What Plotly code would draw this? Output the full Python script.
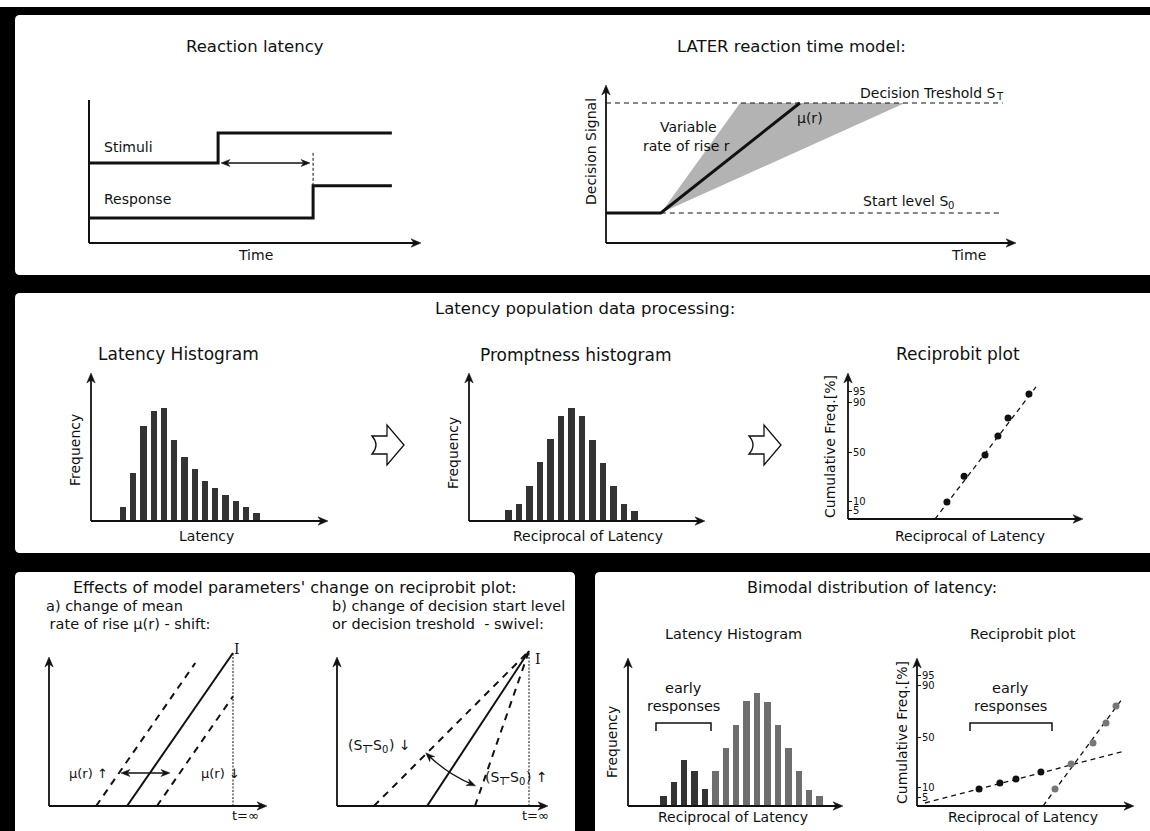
import math
import plotly.graph_objects as go

W, H = 1150, 831
FONT = "DejaVu Sans"
INK = "#111111"

# ---------------- data ----------------
# Reaction latency (time units / signal level units)
stim_time = [0, 3.9, 3.9, 9.15]
stim_level = [5.6, 5.6, 7.7, 7.7]
resp_time = [0, 6.77, 6.77, 9.15]
resp_level = [1.75, 1.75, 4.0, 4.0]
latency_marker_top = 6.3

# LATER model
later_s0 = 1.9
later_sT = 8.86
later_onset = 1.34
later_mean_cross = 4.74
later_fast_cross = 3.28
later_slow_cross = 7.31
later_line_end = 9.7

# Latency histogram
lat_bins = list(range(1, 15))
lat_freq = [14, 48, 95, 110, 113, 81, 64, 52, 40, 33, 26, 20, 14, 8]

# Promptness histogram
prom_bins = list(range(1, 14))
prom_freq = [11, 17, 35, 59, 82, 105, 113, 105, 81, 58, 35, 17, 10]

# Reciprobit (probit units, 0 = 50 %)
probit_tick_pos = [-1.51, -1.26, 0, 1.28, 1.54]
probit_tick_text = ["5", "10", "50", "90", "95"]
rp_x = [4.21, 4.94, 5.83, 6.38, 6.81, 7.70]
rp_y = [-1.28, -0.62, -0.08, 0.41, 0.87, 1.49]
rp_fit_x = [3.70, 8.0]
rp_fit_y = [-1.72, 1.67]

# (a) shift
a_mean_x = [3.58, 8.44]
a_mean_y = [0, 10.27]
a_fast_x = [2.16, 6.71]
a_fast_y = [0, 9.6]
a_slow_x = [4.95, 8.44]
a_slow_y = [0, 7.36]
a_inf_x = [8.44, 8.44]
a_inf_y = [0, 10.27]

# (b) swivel
b_mean_x = [4.27, 9.10]
b_mean_y = [0, 10.4]
b_shallow_x = [1.75, 9.10]
b_shallow_y = [0, 10.4]
b_steep_x = [6.54, 9.10]
b_steep_y = [0, 10.4]
b_inf_x = [9.10, 9.10]
b_inf_y = [0, 10.4]

# Bimodal histogram
bi_early_bins = [1, 2, 3, 4, 5]
bi_early_freq = [10, 24, 46, 35, 17]
bi_main_bins = [6, 7, 8, 9, 10, 11, 12, 13, 14, 15, 16]
bi_main_freq = [35, 58, 81, 105, 113, 104, 81, 58, 35, 16, 10]

# Bimodal reciprobit
bi_early_x = [2.86, 3.82, 4.56, 5.71]
bi_early_y = [-1.30, -1.15, -1.05, -0.875]
bi_main_x = [6.36, 7.10, 8.11, 8.71, 9.17]
bi_main_y = [-1.30, -0.675, -0.15, 0.35, 0.775]
bi_early_fit_x = [0.37, 9.58]
bi_early_fit_y = [-1.65, -0.35]
bi_main_fit_x = [5.81, 9.45]
bi_main_fit_y = [-1.725, 0.95]

# ---------------- helpers ----------------
def PX(x):
    return x / W


def PY(y):
    return 1 - y / H


def P(x, y):
    return f"{PX(x):.5f},{PY(y):.5f}"


layout_axes = {}


def make_axes(idx, box, origin, scale, yticks=False):
    left, top, right, bottom = box
    ox, oy = origin
    sx, sy = scale
    xr = [(left - ox) / sx, (right - ox) / sx]
    yr = [(oy - bottom) / sy, (oy - top) / sy]
    sfx = "" if idx == 1 else str(idx)
    xa = dict(domain=[PX(left), PX(right)], range=xr, visible=False,
              fixedrange=True, anchor="y" + sfx)
    ya = dict(domain=[PY(bottom), PY(top)], range=yr, visible=False,
              fixedrange=True, anchor="x" + sfx)
    if yticks:
        ya.update(visible=True, showline=False, showgrid=False, zeroline=False,
                  ticks="inside", ticklen=4, tickwidth=1, tickcolor=INK,
                  tickmode="array", tickvals=probit_tick_pos,
                  ticktext=probit_tick_text, ticklabelposition="inside",
                  tickfont=dict(family=FONT, size=10, color=INK))
    layout_axes["xaxis" + sfx] = xa
    layout_axes["yaxis" + sfx] = ya
    return "x" + sfx, "y" + sfx


ax1 = make_axes(1, (80, 90, 430, 250), (89, 243), (33.1, 14.3))
ax2 = make_axes(2, (600, 75, 1020, 250), (606, 243), (40.9, 15.8))
ax3 = make_axes(3, (91, 365, 335, 521), (112.7, 521), (10.26, 1))
ax4 = make_axes(4, (469, 365, 710, 521), (498.2, 521), (10.5, 1))
ax5 = make_axes(5, (848, 365, 1090, 519), (848, 452), (23.5, 39), yticks=True)
ax6 = make_axes(6, (49, 640, 270, 806), (49, 806), (21.8, 14.9))
ax7 = make_axes(7, (337, 640, 552, 806), (337, 806), (21.1, 14.9))
ax8 = make_axes(8, (628, 650, 848, 806), (652.9, 806), (10.42, 1))
ax9 = make_axes(9, (917, 650, 1140, 806), (917, 737), (21.7, 40), yticks=True)

fig = go.Figure()


def line(ax, x, y, width=2, dash="solid", color=INK):
    fig.add_trace(go.Scatter(x=x, y=y, mode="lines", xaxis=ax[0], yaxis=ax[1],
                             line=dict(color=color, width=width, dash=dash),
                             hoverinfo="skip"))


def bars(ax, x, y, color="#333333"):
    fig.add_trace(go.Bar(x=x, y=y, width=0.62, xaxis=ax[0], yaxis=ax[1],
                         marker=dict(color=color, line=dict(width=0)),
                         hoverinfo="skip"))


def dots(ax, x, y, color=INK):
    fig.add_trace(go.Scatter(x=x, y=y, mode="markers", xaxis=ax[0], yaxis=ax[1],
                             marker=dict(color=color, size=7, line=dict(width=0)),
                             hoverinfo="skip"))


# ---- panel 1: reaction latency
line(ax1, stim_time, stim_level, width=3)
line(ax1, resp_time, resp_level, width=3)
line(ax1, [resp_time[1], resp_time[1]], [resp_level[2], latency_marker_top],
     width=1, dash="3px,2px")

# ---- panel 2: LATER
fig.add_trace(go.Scatter(
    x=[later_onset, later_fast_cross, later_slow_cross, later_onset],
    y=[later_s0, later_sT, later_sT, later_s0],
    mode="lines", fill="toself", fillcolor="#b3b3b3",
    line=dict(width=0, color="#b3b3b3"), xaxis=ax2[0], yaxis=ax2[1],
    hoverinfo="skip"))
line(ax2, [0, later_line_end], [later_sT, later_sT], width=1.2, dash="5px,4px")
line(ax2, [later_onset, later_line_end], [later_s0, later_s0], width=1.2, dash="5px,4px")
line(ax2, [0, later_onset, later_mean_cross], [later_s0, later_s0, later_sT], width=3)

# ---- middle histograms
bars(ax3, lat_bins, lat_freq)
bars(ax4, prom_bins, prom_freq)
line(ax5, rp_fit_x, rp_fit_y, width=1.3, dash="5px,4px")
dots(ax5, rp_x, rp_y)

# ---- (a) shift
line(ax6, a_fast_x, a_fast_y, width=2, dash="7px,6px")
line(ax6, a_slow_x, a_slow_y, width=2, dash="7px,6px")
line(ax6, a_mean_x, a_mean_y, width=2)
line(ax6, a_inf_x, a_inf_y, width=1, dash="2px,1.5px")

# ---- (b) swivel
line(ax7, b_shallow_x, b_shallow_y, width=2, dash="7px,6px")
line(ax7, b_steep_x, b_steep_y, width=2, dash="7px,6px")
line(ax7, b_mean_x, b_mean_y, width=2)
line(ax7, b_inf_x, b_inf_y, width=1, dash="2px,1.5px")

# ---- bimodal
bars(ax8, bi_early_bins, bi_early_freq, color="#333333")
bars(ax8, bi_main_bins, bi_main_freq, color="#6e6e6e")
line(ax9, bi_early_fit_x, bi_early_fit_y, width=1.3, dash="5px,4px")
line(ax9, bi_main_fit_x, bi_main_fit_y, width=1.3, dash="5px,4px")
dots(ax9, bi_early_x, bi_early_y, color=INK)
dots(ax9, bi_main_x, bi_main_y, color="#777777")

# ---------------- decorations ----------------
shapes = []
annotations = []


def rrect(x0, y0, x1, y1, r):
    return (f"M {P(x0 + r, y0)} L {P(x1 - r, y0)} Q {P(x1, y0)} {P(x1, y0 + r)} "
            f"L {P(x1, y1 - r)} Q {P(x1, y1)} {P(x1 - r, y1)} L {P(x0 + r, y1)} "
            f"Q {P(x0, y1)} {P(x0, y1 - r)} L {P(x0, y0 + r)} Q {P(x0, y0)} {P(x0 + r, y0)} Z")


for (x0, y0, x1, y1) in [(15, 15, 1158, 275), (15, 293, 1158, 553),
                         (15, 572, 575, 840), (595, 572, 1158, 840)]:
    shapes.append(dict(type="path", path=rrect(x0, y0, x1, y1, 5), xref="paper",
                       yref="paper", fillcolor="white", line=dict(width=0),
                       layer="below"))
shapes.append(dict(type="rect", x0=0, x1=1, y0=PY(7), y1=1.0, xref="paper",
                   yref="paper", fillcolor="white", line=dict(width=0), layer="above"))


def seg(x0, y0, x1, y1, width=2):
    shapes.append(dict(type="line", x0=PX(x0), y0=PY(y0), x1=PX(x1), y1=PY(y1),
                       xref="paper", yref="paper", line=dict(color=INK, width=width)))


def head(hx, hy, ux, uy, length=10, half=4.2):
    nx, ny = -uy, ux
    pts = [(hx, hy),
           (hx - length * ux + half * nx, hy - length * uy + half * ny),
           (hx - 0.7 * length * ux, hy - 0.7 * length * uy),
           (hx - length * ux - half * nx, hy - length * uy - half * ny)]
    path = "M " + " L ".join(P(*p) for p in pts) + " Z"
    shapes.append(dict(type="path", path=path, xref="paper", yref="paper",
                       fillcolor=INK, line=dict(color=INK, width=0.5)))


def arrow(x0, y0, x1, y1, width=1.8, both=False, length=10, half=4.2):
    dx, dy = x1 - x0, y1 - y0
    n = math.hypot(dx, dy)
    ux, uy = dx / n, dy / n
    sx0, sy0 = x0, y0
    if both:
        sx0, sy0 = x0 + 0.7 * length * ux, y0 + 0.7 * length * uy
        head(x0, y0, -ux, -uy, length, half)
    seg(sx0, sy0, x1 - 0.7 * length * ux, y1 - 0.7 * length * uy, width)
    head(x1, y1, ux, uy, length, half)


def text(s, x, y, size=14, anchor="center", angle=0, family=FONT):
    annotations.append(dict(text=s, x=PX(x), y=PY(y), xref="paper", yref="paper",
                            showarrow=False, xanchor=anchor, yanchor="middle",
                            textangle=angle, borderpad=0,
                            font=dict(family=family, size=size, color=INK)))


# DejaVu Sans advance widths (em fraction) for the pieces used around subscripts
ADV = {"(": 799, ")": 799, "S": 1300, "-": 739, "0": 1303, "T": 1251, " ": 651}


def adv(s, size):
    return sum(ADV.get(c, 1200) for c in s) / 2048 * size


def st_minus_s0(x_left, y, arrow_char, size=14, sub=10):
    pieces = [("(S", False), ("T", True), ("-S", False), ("0", True),
              (") " + arrow_char, False)]
    x = x_left
    for s, is_sub in pieces:
        if is_sub:
            text(s, x, y + 4, sub, anchor="left")
            x += adv(s, sub)
        else:
            text(s, x, y, size, anchor="left")
            x += adv(s.replace(arrow_char, ""), size)


def with_sub(main, sub, x_right, y, size=14, subsize=10):
    xs = x_right - adv(sub, subsize)
    text(main, xs + 2.5, y, size, anchor="right")
    text(sub, xs, y + 4, subsize, anchor="left")


# axes
seg(89, 100, 89, 243)
arrow(89, 243, 421, 243)
arrow(606, 243, 606, 85)
arrow(606, 243, 1016, 243)
for (ox, oy, tx, ty) in [(91, 521, 328, 373), (469, 521, 705, 373),
                         (848, 519, 1083, 373), (49, 806, 267, 657),
                         (337, 806, 548, 657), (628, 806, 843, 658),
                         (917, 806, 1134, 658)]:
    arrow(ox, oy, ox, ty)
    arrow(ox, oy, tx, oy)

# latency double arrow
arrow(221, 163, 310, 163, width=1.4, both=True, length=9, half=3.5)
# mu(r) shift arrow
arrow(121, 773, 170, 773, width=1.4, both=True, length=9, half=3.5)


# hollow block arrows
def block_arrow(x0, yc):
    pts = [(x0, yc - 9), (x0 + 15, yc - 9), (x0 + 15, yc - 20), (x0 + 32, yc),
           (x0 + 15, yc + 20), (x0 + 15, yc + 9), (x0, yc + 9)]
    path = "M " + " L ".join(P(*p) for p in pts)
    path += f" Q {P(x0 + 8, yc)} {P(x0, yc - 9)} Z"
    shapes.append(dict(type="path", path=path, xref="paper", yref="paper",
                       fillcolor="white", line=dict(color=INK, width=1.3)))


block_arrow(372, 445)
block_arrow(749, 445)


# brackets
def bracket(x0, x1, ytop, ybot):
    path = f"M {P(x0, ybot)} L {P(x0, ytop)} L {P(x1, ytop)} L {P(x1, ybot)}"
    shapes.append(dict(type="path", path=path, xref="paper", yref="paper",
                       fillcolor="rgba(0,0,0,0)", line=dict(color=INK, width=1.5)))


bracket(656, 711, 723, 731)
bracket(970, 1052, 723, 731)

# curved swivel arrow in (b)
cx, cy, rad = 529, 651, 145
a1, a2 = math.radians(134.2), math.radians(112.8)
p1 = (cx + rad * math.cos(a1), cy + rad * math.sin(a1))
p2 = (cx + rad * math.cos(a2), cy + rad * math.sin(a2))
mid = (a1 + a2) / 2
dd = rad / math.cos((a1 - a2) / 2)
cp = (cx + dd * math.cos(mid), cy + dd * math.sin(mid))
shapes.append(dict(type="path", path=f"M {P(*p1)} Q {P(*cp)} {P(*p2)}",
                   xref="paper", yref="paper", fillcolor="rgba(0,0,0,0)",
                   line=dict(color=INK, width=1.3)))
t1 = (-math.sin(a1), math.cos(a1))
t2 = (math.sin(a2), -math.cos(a2))
head(p1[0] + 3 * t1[0], p1[1] + 3 * t1[1], t1[0], t1[1], 9, 3.5)
head(p2[0] + 3 * t2[0], p2[1] + 3 * t2[1], t2[0], t2[1], 9, 3.5)

# ---------------- texts ----------------
text("Reaction latency", 255, 47, 16.5)
text("Stimuli", 103, 147, 14, anchor="left")
text("Response", 103, 199, 14, anchor="left")
text("Time", 255, 255, 14)

text("LATER reaction time model:", 791, 47, 16.5)
text("Decision Signal", 591, 152, 14, angle=-90)
with_sub("Decision Treshold S", "T", 1001, 93)
with_sub("Start level S", "0", 953, 201)
text("μ(r)", 810, 118, 14)
text("Variable", 688, 127, 14)
text("rate of rise r", 686, 146, 14)
text("Time", 968, 255, 14)

text("Latency population data processing:", 585, 309, 16.5)
text("Latency Histogram", 178, 354, 17)
text("Frequency", 75, 450, 14, angle=-90)
text("Latency", 206, 536, 14)
text("Promptness histogram", 576, 355, 17)
text("Frequency", 453, 453, 14, angle=-90)
text("Reciprocal of Latency", 588, 536, 14)
text("Reciprobit plot", 958, 354, 17)
text("Cumulative Freq.[%]", 830, 447, 14, angle=-90)
text("Reciprocal of Latency", 970, 536, 14)

text("Effects of model parameters' change on reciprobit plot:", 295, 587, 16)
text("a) change of mean", 45, 606, 14.5, anchor="left")
text(" rate of rise μ(r) - shift:", 44, 624, 14.5, anchor="left")
text("b) change of decision start level", 331, 606, 14.5, anchor="left")
text("or decision treshold  - swivel:", 331, 624, 14.5, anchor="left")
text("μ(r) ↑", 88, 773, 13)
text("μ(r) ↓", 220, 773, 13)
text("I", 237, 649, 14, family="DejaVu Serif")
text("I", 538, 659, 14, family="DejaVu Serif")
text("t=∞", 245, 815, 13)
text("t=∞", 535, 815, 13)
st_minus_s0(347, 745, "↓")
st_minus_s0(484, 777, "↑")

text("Bimodal distribution of latency:", 872, 587, 16)
text("Latency Histogram", 733, 634, 14.5)
text("Frequency", 612, 742, 14, angle=-90)
text("early", 683, 688, 14.5)
text("responses", 683, 706, 14.5)
text("Reciprocal of Latency", 733, 817, 14)
text("Reciprobit plot", 1023, 634, 14.5)
text("Cumulative Freq.[%]", 902, 733, 14, angle=-90)
text("early", 1010, 688, 14.5)
text("responses", 1010, 706, 14.5)
text("Reciprocal of Latency", 1023, 817, 14)

fig.update_layout(
    width=W, height=H, margin=dict(l=0, r=0, t=0, b=0, pad=0),
    paper_bgcolor="#000000", plot_bgcolor="rgba(0,0,0,0)",
    showlegend=False, barmode="overlay", bargap=0,
    font=dict(family=FONT, color=INK),
    shapes=shapes, annotations=annotations,
    **layout_axes,
)

fig.write_html("out.html", config={"displayModeBar": False},
               post_script="document.body.style.margin='0';")
